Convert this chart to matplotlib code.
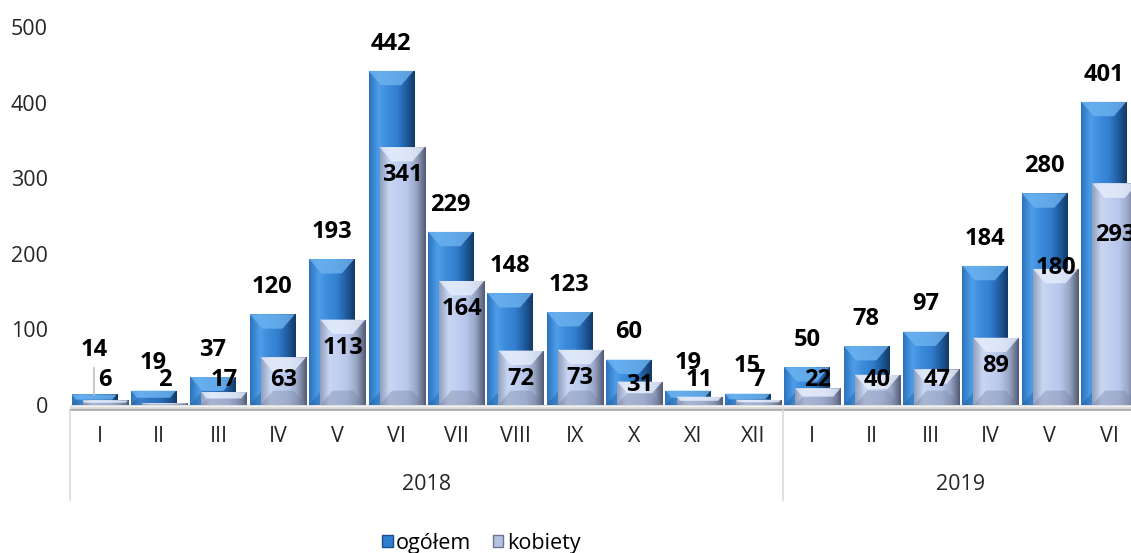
import numpy as np
import matplotlib
matplotlib.use('Agg')
import matplotlib.pyplot as plt
from matplotlib.patches import Rectangle, Polygon, Patch
from matplotlib.colors import LinearSegmentedColormap

plt.rcParams['font.family'] = ['Open Sans', 'DejaVu Sans']

# data
months = ['I', 'II', 'III', 'IV', 'V', 'VI', 'VII', 'VIII', 'IX', 'X', 'XI', 'XII',
          'I', 'II', 'III', 'IV', 'V', 'VI']
years = ['2018', '2019']
year_counts = [12, 6]
ogolem = [14, 19, 37, 120, 193, 442, 229, 148, 123, 60, 19, 15,
          50, 78, 97, 184, 280, 401]
kobiety = [6, 2, 17, 63, 113, 341, 164, 72, 73, 31, 11, 7,
           22, 40, 47, 89, 180, 293]

W, H = 1131, 553
fig = plt.figure(figsize=(W / 100, H / 100), dpi=100)
# plot area in pixels: x 70..1139 (runs past the right edge), y 27..405
ax = fig.add_axes([70 / W, 1 - 405 / H, 1069 / W, 378 / H])
ax.set_xlim(-0.5, 17.5)
ax.set_ylim(0, 500)
for s in ax.spines.values():
    s.set_visible(False)
ax.set_xticks([])
ax.set_yticks(range(0, 501, 100))
ax.tick_params(axis='y', length=0, pad=16, labelsize=15.5, labelcolor='#262626')

blue_cmap = LinearSegmentedColormap.from_list(
    'b', ['#2d73bd', '#4d9de8', '#3d8cdb', '#3380d0', '#2260a6', '#123a66'])
lav_cmap = LinearSegmentedColormap.from_list(
    'k', ['#929fbd', '#c8d6f2', '#c0cff0', '#b6c6ea', '#98a5c4', '#525b76'])

width = 0.76
off = 0.093
bw = 0.21   # bevel width in x units
bh = 19.0   # bevel height in y units


def bevel_bar(x, h, cmap, top_col, bot_col, z):
    x0, x1 = x - width / 2, x + width / 2
    rect = Rectangle((x0, 0), width, h, facecolor='none', edgecolor='none', zorder=z)
    ax.add_patch(rect)
    grad = np.linspace(0, 1, 64).reshape(1, -1)
    im = ax.imshow(grad, cmap=cmap, extent=(x0, x1, 0, h), aspect='auto',
                   origin='lower', zorder=z)
    im.set_clip_path(rect)
    b = min(bh, h / 2.0)
    w = bw * b / bh
    ax.add_patch(Polygon([(x0, h), (x1, h), (x1 - w, h - b), (x0 + w, h - b)],
                         closed=True, facecolor=top_col, edgecolor='none',
                         alpha=0.8, zorder=z + 0.1))
    ax.add_patch(Polygon([(x0, 0), (x1, 0), (x1 - w, b), (x0 + w, b)],
                         closed=True, facecolor=bot_col, edgecolor='none',
                         alpha=0.35, zorder=z + 0.1))


x = np.arange(len(months))
for i in range(len(months)):
    bevel_bar(x[i] - off, ogolem[i], blue_cmap, '#6db3f0', '#1d5190', 2)
for i in range(len(months)):
    bevel_bar(x[i] + off, kobiety[i], lav_cmap, '#e6eefc', '#6f7b98', 3)

# floor under the bars
ax.add_patch(Rectangle((-0.5, -6), 18, 6, facecolor='#d9d9d9', edgecolor='none',
                       clip_on=False, zorder=1))
ax.plot([-0.5, 17.5], [-6, -6], color='#a6a6a6', lw=1.2, clip_on=False, zorder=1)
ax.plot([-0.5, 17.5], [-1, -1], color='#f2f2f2', lw=1, clip_on=False, zorder=1)

# data labels
og_lab_y = {0: 73}
kob_lab_y = {9: 26, 16: 181, 17: 225}
for i in range(len(months)):
    ax.text(x[i] - off, og_lab_y.get(i, ogolem[i] + 36), str(ogolem[i]),
            ha='center', va='center', fontsize=17, fontweight='bold',
            color='black', zorder=5, clip_on=False)
    ax.text(x[i] + off, kob_lab_y.get(i, max(kobiety[i] - 37, 33)), str(kobiety[i]),
            ha='center', va='center', fontsize=17, fontweight='bold',
            color='black', zorder=5, clip_on=False)
# leader line for the first label
ax.plot([-off, -off], [13, 49], color='#bfbfbf', lw=1.2, zorder=4)

# category axis: months and years
trans = ax.get_xaxis_transform()
px = 1 / 378.0
for i, m in enumerate(months):
    ax.text(x[i], -32 * px, m, transform=trans, ha='center', va='center',
            fontsize=15.5, color='#262626', clip_on=False)
start = 0
bounds = [-0.5]
for yname, n in zip(years, year_counts):
    mid = start + (n - 1) / 2.0
    ax.text(mid, -79 * px, yname, transform=trans, ha='center', va='center',
            fontsize=15.5, color='#262626', clip_on=False)
    start += n
    bounds.append(start - 0.5)
for bx in bounds:
    ax.plot([bx, bx], [-5 * px, -95 * px], transform=trans, color='#d9d9d9',
            lw=1.2, clip_on=False)

# legend
handles = [Patch(facecolor='#2f7fd0', edgecolor='#1d4f8a', label='ogółem'),
           Patch(facecolor='#b4c2e2', edgecolor='#6a7490', label='kobiety')]
fig.legend(handles=handles, loc='center', bbox_to_anchor=(481 / W, 1 - 543 / H),
           ncol=2, frameon=False, fontsize=15.5, handlelength=0.5, handleheight=0.5,
           handletextpad=0.15, columnspacing=1.0, borderaxespad=0)

fig.savefig('out.png', dpi=100)
